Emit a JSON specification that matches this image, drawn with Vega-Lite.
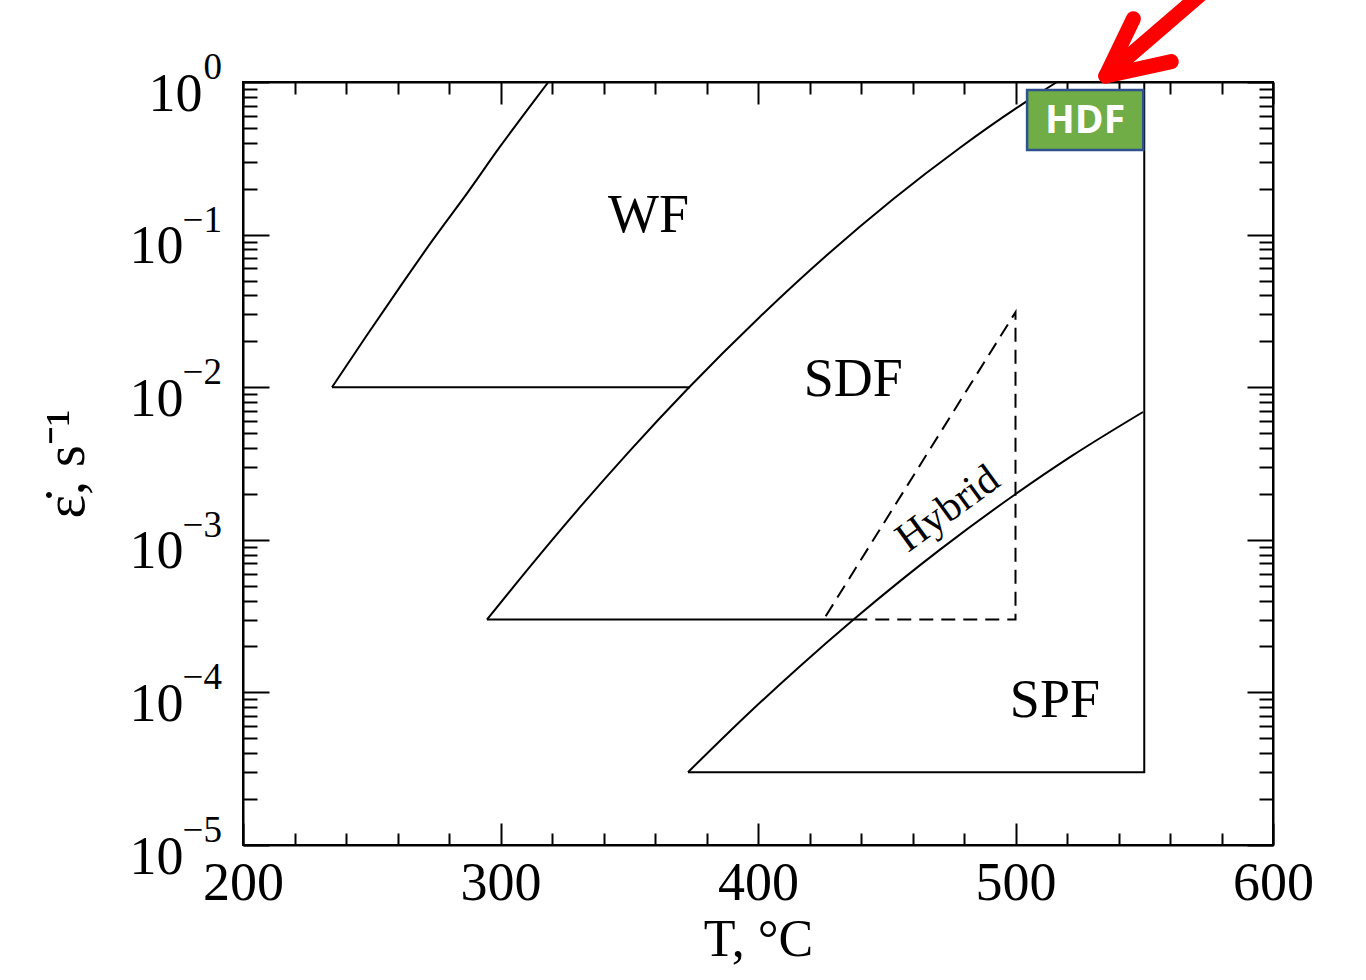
{
  "$schema": "https://vega.github.io/schema/vega-lite/v6.json",
  "autosize": "none",
  "width": 1030,
  "height": 763,
  "padding": {"left": 243, "top": 82, "right": 93, "bottom": 135},
  "background": "white",
  "config": {
    "font": "Liberation Serif",
    "view": {"stroke": "black", "strokeWidth": 2},
    "axis": {
      "grid": false,
      "domainColor": "black",
      "domainWidth": 2,
      "tickColor": "black",
      "tickWidth": 2,
      "labelColor": "black",
      "titleColor": "black",
      "labelFont": "Liberation Serif",
      "titleFont": "Liberation Serif",
      "titleFontWeight": "normal",
      "labelFlush": false,
      "labelOverlap": false
    }
  },
  "datasets": {
    "curves": [
      {"seg": "WF", "i": 1, "T": 234.56, "rate": 0.01},
      {"seg": "WF", "i": 2, "T": 247.77, "rate": 0.02149},
      {"seg": "WF", "i": 3, "T": 260.97, "rate": 0.04545},
      {"seg": "WF", "i": 4, "T": 273.79, "rate": 0.0926},
      {"seg": "WF", "i": 5, "T": 286.99, "rate": 0.1862},
      {"seg": "WF", "i": 6, "T": 299.81, "rate": 0.3767},
      {"seg": "WF", "i": 7, "T": 312.62, "rate": 0.736},
      {"seg": "WF", "i": 8, "T": 318.6, "rate": 1.0},
      {"seg": "SDF", "i": 1, "T": 294.76, "rate": 0.0003},
      {"seg": "SDF", "i": 2, "T": 311.46, "rate": 0.0006675},
      {"seg": "SDF", "i": 3, "T": 330.87, "rate": 0.001635},
      {"seg": "SDF", "i": 4, "T": 350.29, "rate": 0.003842},
      {"seg": "SDF", "i": 5, "T": 372.43, "rate": 0.00966},
      {"seg": "SDF", "i": 6, "T": 400.78, "rate": 0.02897},
      {"seg": "SDF", "i": 7, "T": 426.8, "rate": 0.0735},
      {"seg": "SDF", "i": 8, "T": 452.43, "rate": 0.1706},
      {"seg": "SDF", "i": 9, "T": 478.45, "rate": 0.371},
      {"seg": "SDF", "i": 10, "T": 504.47, "rate": 0.7496},
      {"seg": "SDF", "i": 11, "T": 516.12, "rate": 1.0},
      {"seg": "SPF", "i": 1, "T": 372.82, "rate": 0.00003},
      {"seg": "SPF", "i": 2, "T": 396.89, "rate": 0.0000744},
      {"seg": "SPF", "i": 3, "T": 416.31, "rate": 0.0001485},
      {"seg": "SPF", "i": 4, "T": 436.89, "rate": 0.000298},
      {"seg": "SPF", "i": 5, "T": 455.15, "rate": 0.000536},
      {"seg": "SPF", "i": 6, "T": 470.68, "rate": 0.000862},
      {"seg": "SPF", "i": 7, "T": 499.81, "rate": 0.001981},
      {"seg": "SPF", "i": 8, "T": 522.33, "rate": 0.003585},
      {"seg": "SPF", "i": 9, "T": 549.51, "rate": 0.00688}
    ],
    "edges": [
      {"seg": "WF base", "kind": "boundary", "i": 1, "T": 234.56, "rate": 0.01},
      {"seg": "WF base", "kind": "boundary", "i": 2, "T": 373.6, "rate": 0.01},
      {"seg": "SDF base", "kind": "boundary", "i": 1, "T": 294.76, "rate": 0.0003},
      {"seg": "SDF base", "kind": "boundary", "i": 2, "T": 437.0, "rate": 0.0003},
      {"seg": "SPF box", "kind": "boundary", "i": 1, "T": 550.0, "rate": 1.0},
      {"seg": "SPF box", "kind": "boundary", "i": 2, "T": 550.0, "rate": 0.00003},
      {"seg": "SPF box", "kind": "boundary", "i": 3, "T": 372.82, "rate": 0.00003},
      {"seg": "Hybrid", "kind": "hybrid", "i": 1, "T": 437.0, "rate": 0.0003},
      {"seg": "Hybrid", "kind": "hybrid", "i": 2, "T": 500.0, "rate": 0.0003},
      {"seg": "Hybrid", "kind": "hybrid", "i": 3, "T": 500.0, "rate": 0.031},
      {"seg": "Hybrid", "kind": "hybrid", "i": 4, "T": 426.0, "rate": 0.00031}
    ],
    "exponents": [
      {"rate": 1, "exp": "0"},
      {"rate": 0.1, "exp": "−1"},
      {"rate": 0.01, "exp": "−2"},
      {"rate": 0.001, "exp": "−3"},
      {"rate": 0.0001, "exp": "−4"},
      {"rate": 0.00001, "exp": "−5"}
    ],
    "regions": [
      {"label": "WF", "T": 357.5, "rate": 0.1324},
      {"label": "SDF", "T": 437.0, "rate": 0.01115},
      {"label": "SPF", "T": 515.3, "rate": 0.0000878}
    ],
    "hybrid": [
      {"label": "Hybrid", "T": 476.5, "rate": 0.00137}
    ],
    "hdf": [
      {"label": "HDF", "T1": 504.5, "T2": 549.6, "r1": 0.358, "r2": 0.887, "Tc": 527.0, "rc": 0.555}
    ],
    "arrow": [
      {"part": "shaft", "i": 1, "T": 535.1, "rate": 1.095},
      {"part": "shaft", "i": 2, "T": 571.7, "rate": 3.72},
      {"part": "barb1", "i": 1, "T": 535.1, "rate": 1.095},
      {"part": "barb1", "i": 2, "T": 545.8, "rate": 2.6},
      {"part": "barb2", "i": 1, "T": 535.1, "rate": 1.095},
      {"part": "barb2", "i": 2, "T": 560.5, "rate": 1.36}
    ]
  },
  "resolve": {"axis": {"x": "independent", "y": "independent"}},
  "layer": [
    {
      "data": {"name": "curves"},
      "mark": {"type": "line", "color": "black", "strokeWidth": 2, "interpolate": "monotone"},
      "encoding": {
        "x": {
          "field": "T", "type": "quantitative",
          "scale": {"domain": [200, 600], "nice": false, "zero": false},
          "axis": {
            "orient": "bottom",
            "values": [200,220,240,260,280,300,320,340,360,380,400,420,440,460,480,500,520,540,560,580,600],
            "tickSize": {"condition": {"test": "datum.value % 100 === 0", "value": -22}, "value": -12},
            "labelExpr": "datum.value % 100 === 0 ? datum.label : ''",
            "labelFontSize": 54,
            "labelPadding": 33,
            "title": "T, °C",
            "titleFontSize": 52,
            "titlePadding": -6
          }
        },
        "y": {
          "field": "rate", "type": "quantitative",
          "scale": {"type": "log", "domain": [0.00001, 1], "nice": false},
          "axis": {
            "orient": "left",
            "values": [0.00001,0.00002,0.00003,0.00004,0.00005,0.00006,0.00007,0.00008,0.00009,0.0001,0.0002,0.0003,0.0004,0.0005,0.0006,0.0007,0.0008,0.0009,0.001,0.002,0.003,0.004,0.005,0.006,0.007,0.008,0.009,0.01,0.02,0.03,0.04,0.05,0.06,0.07,0.08,0.09,0.1,0.2,0.3,0.4,0.5,0.6,0.7,0.8,0.9,1],
            "tickSize": {"condition": {"test": "abs(log(datum.value)/LN10 - round(log(datum.value)/LN10)) < 0.001", "value": -26}, "value": -14},
            "labelExpr": "abs(log(datum.value)/LN10 - round(log(datum.value)/LN10)) < 0.001 ? '10' : ''",
            "labelFontSize": 54,
            "labelPadding": {"condition": {"test": "datum.value > 0.5", "value": 67}, "value": 86},
            "labelOffset": 12,
            "title": "ε̇, s⁻¹",
            "titleFontSize": 56,
            "titlePadding": 34
          }
        },
        "detail": {"field": "seg"},
        "order": {"field": "i", "type": "quantitative"}
      }
    },
    {
      "data": {"name": "edges"},
      "mark": {"type": "line", "color": "black", "strokeWidth": 2},
      "encoding": {
        "x": {"field": "T", "type": "quantitative", "axis": null},
        "y": {"field": "rate", "type": "quantitative", "axis": null},
        "detail": {"field": "seg"},
        "order": {"field": "i", "type": "quantitative"},
        "strokeDash": {
          "field": "kind", "type": "nominal",
          "scale": {"domain": ["boundary", "hybrid"], "range": [[1, 0], [14, 8]]},
          "legend": null
        }
      }
    },
    {
      "data": {"name": "exponents"},
      "mark": {"type": "text", "font": "Liberation Serif", "fontSize": 37, "color": "black", "align": "right", "baseline": "alphabetic", "dy": -3},
      "encoding": {
        "x": {"datum": 191.8, "type": "quantitative", "axis": null},
        "y": {"field": "rate", "type": "quantitative", "axis": null},
        "text": {"field": "exp"}
      }
    },
    {
      "data": {"name": "hdf"},
      "mark": {"type": "rect", "fill": "#70ad47", "stroke": "#2f528f", "strokeWidth": 2.5},
      "encoding": {
        "x": {
          "field": "T1", "type": "quantitative",
          "axis": {
            "orient": "top",
            "values": [200,220,240,260,280,300,320,340,360,380,400,420,440,460,480,500,520,540,560,580,600],
            "tickSize": {"condition": {"test": "datum.value % 100 === 0", "value": -22}, "value": -12},
            "labels": false,
            "title": null
          }
        },
        "x2": {"field": "T2"},
        "y": {
          "field": "r1", "type": "quantitative",
          "axis": {
            "orient": "right",
            "values": [0.00001,0.00002,0.00003,0.00004,0.00005,0.00006,0.00007,0.00008,0.00009,0.0001,0.0002,0.0003,0.0004,0.0005,0.0006,0.0007,0.0008,0.0009,0.001,0.002,0.003,0.004,0.005,0.006,0.007,0.008,0.009,0.01,0.02,0.03,0.04,0.05,0.06,0.07,0.08,0.09,0.1,0.2,0.3,0.4,0.5,0.6,0.7,0.8,0.9,1],
            "tickSize": {"condition": {"test": "abs(log(datum.value)/LN10 - round(log(datum.value)/LN10)) < 0.001", "value": -26}, "value": -14},
            "labels": false,
            "title": null
          }
        },
        "y2": {"field": "r2"}
      }
    },
    {
      "data": {"name": "hdf"},
      "mark": {"type": "text", "font": "Open Sans", "fontWeight": "bold", "fontSize": 39, "color": "white", "align": "center", "baseline": "middle"},
      "encoding": {
        "x": {"field": "Tc", "type": "quantitative", "axis": null},
        "y": {"field": "rc", "type": "quantitative", "axis": null},
        "text": {"field": "label"}
      }
    },
    {
      "data": {"name": "regions"},
      "mark": {"type": "text", "font": "Liberation Serif", "fontSize": 54, "color": "black", "align": "center", "baseline": "middle"},
      "encoding": {
        "x": {"field": "T", "type": "quantitative", "axis": null},
        "y": {"field": "rate", "type": "quantitative", "axis": null},
        "text": {"field": "label"}
      }
    },
    {
      "data": {"name": "hybrid"},
      "mark": {"type": "text", "font": "Liberation Serif", "fontSize": 41, "color": "black", "align": "center", "baseline": "alphabetic", "angle": -36},
      "encoding": {
        "x": {"field": "T", "type": "quantitative", "axis": null},
        "y": {"field": "rate", "type": "quantitative", "axis": null},
        "text": {"field": "label"}
      }
    },
    {
      "data": {"name": "arrow"},
      "mark": {"type": "line", "color": "#ff0000", "strokeWidth": 15, "strokeCap": "round", "strokeJoin": "round", "clip": false},
      "encoding": {
        "x": {"field": "T", "type": "quantitative", "axis": null},
        "y": {"field": "rate", "type": "quantitative", "axis": null},
        "detail": {"field": "part"},
        "order": {"field": "i", "type": "quantitative"}
      }
    }
  ]
}
